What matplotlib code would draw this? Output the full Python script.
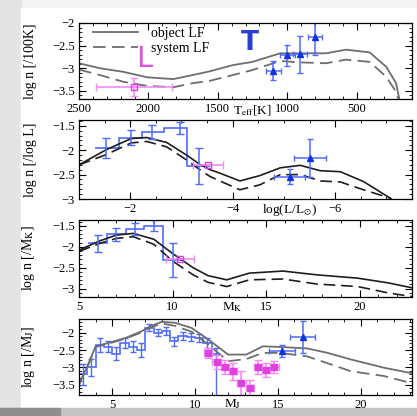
import numpy as np
import matplotlib.pyplot as plt
from matplotlib.ticker import MultipleLocator
from matplotlib.patches import Rectangle

plt.rcParams['font.family'] = ['Liberation Serif', 'DejaVu Serif']
plt.rcParams['mathtext.fontset'] = 'stix'

# ---- panel 1 : per 100K in Teff ----
teff_model = [2500, 2350, 2180, 2010, 1820, 1680, 1560, 1390, 1250, 1050, 910, 720, 575, 405, 285, 215, 190]
teff_obj = [-2.89, -3.00, -3.08, -3.20, -3.24, -3.15, -3.07, -2.93, -2.86, -2.67, -2.67, -2.67, -2.59, -2.65, -2.97, -3.33, -3.70]
teff_sys = [-3.03, -3.15, -3.30, -3.39, -3.42, -3.33, -3.28, -3.15, -3.04, -2.84, -2.87, -2.89, -2.81, -2.86, -3.19, -3.52, -3.75]
teff_L = [2105]
teff_L_val = [-3.41]
teff_L_xerr = [275]
teff_L_yerr = [0.2]
teff_T = [1100, 1000, 905, 800]
teff_T_val = [-3.06, -2.71, -2.69, -2.32]
teff_T_xerr = [54, 54, 50, 50]
teff_T_yerr = [0.21, 0.23, 0.41, 0.39]

# ---- panel 2 : per log L ----
logl_model = [-1.0, -1.53, -2.02, -2.32, -2.71, -3.10, -3.36, -3.56, -3.75, -4.14, -4.53, -4.93, -5.32, -5.71, -6.10, -6.55, -7.07, -7.15]
logl_obj = [-2.30, -1.99, -1.76, -1.74, -1.84, -2.10, -2.29, -2.40, -2.47, -2.63, -2.52, -2.36, -2.31, -2.42, -2.44, -2.64, -2.98, -3.05]
logl_sys = [-2.30, -2.09, -1.85, -1.82, -1.93, -2.20, -2.40, -2.54, -2.63, -2.81, -2.71, -2.50, -2.50, -2.63, -2.65, -2.81, -2.98, -3.10]
logl_edges = [-1.31, -1.78, -2.22, -2.65, -3.10, -3.55]
logl_hist = [-1.95, -1.74, -1.62, -1.54, -2.32]
logl_hist_x = [-1.53, -2.02, -2.43, -2.97, -3.34]
logl_hist_err = [0.20, 0.15, 0.14, 0.12, 0.37]
logl_L = [-3.52]
logl_L_val = [-2.31]
logl_L_xerr = [0.30]
logl_T = [-5.11, -5.51]
logl_T_val = [-2.54, -2.16]
logl_T_xerr = [0.31, 0.31]
logl_T_yerr = [0.16, 0.39]

# ---- panel 3 : per M_K ----
mk_model = [5.0, 6.1, 7.0, 7.9, 9.0, 10.0, 11.1, 11.9, 12.9, 14.1, 15.9, 17.7, 19.9, 21.5, 22.8]
mk_obj = [-2.08, -1.86, -1.72, -1.68, -1.82, -2.16, -2.50, -2.69, -2.79, -2.63, -2.58, -2.67, -2.75, -2.86, -2.98]
mk_sys = [-2.11, -1.92, -1.80, -1.76, -1.94, -2.34, -2.67, -2.85, -2.95, -2.79, -2.77, -2.89, -2.95, -3.10, -3.19]
mk_edges = [5.5, 6.5, 7.5, 8.5, 9.5, 10.5]
mk_hist = [-1.92, -1.70, -1.58, -1.50, -2.32]
mk_hist_err = [0.20, 0.16, 0.14, 0.13, 0.40]
mk_L = [10.4]
mk_L_val = [-2.28]
mk_L_xerr = [0.75]

# ---- panel 4 : per M_J ----
mj_model = [3.0, 3.55, 4.0, 4.8, 5.8, 6.8, 7.3, 8.0, 8.8, 9.8, 10.8, 12.0, 13.1, 14.1, 15.1, 16.75, 18.0, 19.4, 21.4, 23.1]
mj_obj = [-3.49, -2.92, -2.39, -2.29, -2.15, -1.95, -1.81, -1.68, -1.71, -1.86, -2.19, -2.63, -2.63, -2.39, -2.41, -2.45, -2.58, -2.77, -3.01, -3.17]
mj_sys = [-3.50, -2.94, -2.41, -2.31, -2.17, -1.98, -1.85, -1.73, -1.80, -1.97, -2.34, -2.82, -2.76, -2.58, -2.58, -2.68, -2.88, -3.11, -3.25, -3.46]
mj_edges = [3.0, 3.5, 4.0, 4.5, 5.0, 5.5, 6.0, 6.5, 7.0, 7.5, 8.0, 8.5, 9.0, 9.5, 10.0, 10.5, 11.0, 11.5]
mj_hist = [-3.20, -3.00, -2.35, -2.40, -2.60, -2.30, -2.40, -2.50, -1.85, -2.00, -1.95, -2.25, -2.10, -2.12, -2.15, -2.30, -2.60]
mj_hist_lo = [0.30, 0.25, 0.20, 0.15, 0.20, 0.15, 0.15, 0.20, 0.10, 0.10, 0.12, 0.12, 0.12, 0.12, 0.12, 0.15, 1.40]
mj_hist_hi = [0.30, 0.25, 0.20, 0.15, 0.20, 0.15, 0.15, 0.20, 0.10, 0.10, 0.12, 0.12, 0.12, 0.12, 0.12, 0.15, 0.15]
mj_L = [10.8, 11.3, 11.8, 12.3, 12.8, 13.3, 13.8, 14.3, 14.8]
mj_L_val = [-2.58, -2.85, -2.98, -3.11, -3.45, -3.61, -2.98, -3.08, -2.98]
mj_L_yerr = [0.15, 0.2, 0.2, 0.25, 0.35, 0.25, 0.2, 0.2, 0.17]
mj_T = [15.25, 16.5]
mj_T_val = [-2.53, -2.12]
mj_T_xerr = [0.8, 0.76]
mj_T_yerr = [0.17, 0.47]

GRAY = '#6e6e6e'
DARK = '#1e1e1e'
BLUE = '#1133dd'
LBLUE = '#4f6cff'
MAG = '#e040e0'
LMAG = '#f28cf2'
DASH = (7, 3.5)

fig = plt.figure(figsize=(4.17, 4.16), dpi=100)
fig.patch.set_facecolor('#ececec')

# slide-like background card
bg = fig.add_axes([0, 0, 1, 1], zorder=-10)
bg.set_axis_off()
bg.set_xlim(0, 417)
bg.set_ylim(416, 0)
bg.add_patch(Rectangle((0, 0), 417, 8, color='#f4f4f4'))
bg.add_patch(Rectangle((0, 0), 21, 416, color='#e4e4e4'))
bg.add_patch(Rectangle((21, 8), 396, 400, color='white'))
bg.add_patch(Rectangle((0, 408), 417, 8, color='#c4c4c4'))
bg.add_patch(Rectangle((0, 408), 60, 8, color='#8e8e8e'))


def make_ax(top, bottom):
    ax = fig.add_axes([79 / 417, 1 - bottom / 416, 333 / 417, (bottom - top) / 416])
    ax.tick_params(which='both', direction='in', top=True, right=True, labelsize=9, pad=3)
    ax.tick_params(which='major', length=5, width=0.8)
    ax.tick_params(which='minor', length=2.5, width=0.6)
    for s in ax.spines.values():
        s.set_linewidth(0.9)
    ax.yaxis.set_label_coords(-0.125, 0.5)
    ax.yaxis.set_major_locator(MultipleLocator(0.5))
    ax.yaxis.set_minor_locator(MultipleLocator(0.1))
    return ax


def fmt(v, pos):
    s = ('%g' % v)
    return s.replace('-', '\u2212')


# panel 1
ax1 = make_ax(23, 99)
ax1.plot(teff_model, teff_obj, color=GRAY, lw=1.3, label='object LF')
ax1.plot(teff_model, teff_sys, color=GRAY, lw=1.3, dashes=DASH, label='system LF')
ax1.errorbar(teff_L, teff_L_val, xerr=teff_L_xerr, yerr=teff_L_yerr, fmt='s', mfc='none',
             mec=MAG, ms=4, ecolor=LMAG, elinewidth=1.2, capsize=3)
ax1.errorbar(teff_T, teff_T_val, xerr=teff_T_xerr, yerr=teff_T_yerr, fmt='^', color=BLUE,
             ms=4.5, ecolor=LBLUE, elinewidth=1.1, capsize=2.5)
ax1.text(2030, -2.8, 'L', color='#dd55dd', fontsize=21, family='DejaVu Sans', ha='center', va='center')
ax1.text(1265, -2.45, 'T', color='#2b3fd0', fontsize=19, family='DejaVu Sans', weight='bold', ha='center', va='center')
ax1.set_xlim(2500, 100)
ax1.set_ylim(-3.68, -2.0)
ax1.xaxis.set_major_locator(MultipleLocator(500))
ax1.xaxis.set_minor_locator(MultipleLocator(100))
ax1.set_xticks([2500, 2000, 1500, 1000, 500])
ax1.set_ylabel('log n [/100K]', fontsize=10)
ax1.text(1250, -3.78, r'T$_{\rm eff}$[K]', fontsize=9.5, ha='center', va='top', transform=ax1.transData)
ax1.legend(loc='upper left', frameon=False, fontsize=10, handlelength=3.3, borderaxespad=0.1,
           labelspacing=0.15, handletextpad=0.9, bbox_to_anchor=(0.02, 1.04))

# panel 2
ax2 = make_ax(120, 199)
ax2.plot(logl_model, logl_obj, color=DARK, lw=1.2)
ax2.plot(logl_model, logl_sys, color=DARK, lw=1.2, dashes=DASH)
ax2.stairs(logl_hist, logl_edges, color=LBLUE, lw=1.2, baseline=None)
ax2.errorbar(logl_hist_x, logl_hist, yerr=logl_hist_err, fmt='none', ecolor=LBLUE, elinewidth=1.1, capsize=3)
ax2.errorbar(logl_L, logl_L_val, xerr=logl_L_xerr, fmt='s', mfc='none', mec=MAG, ms=4,
             ecolor=LMAG, elinewidth=1.2, capsize=3)
ax2.errorbar(logl_T, logl_T_val, xerr=logl_T_xerr, yerr=logl_T_yerr, fmt='^', color=BLUE,
             ms=4.5, ecolor=LBLUE, elinewidth=1.1, capsize=2.5)
ax2.set_xlim(-1.0, -7.5)
ax2.set_ylim(-3.0, -1.38)
ax2.set_xticks([-2, -4, -6])
ax2.xaxis.set_minor_locator(MultipleLocator(0.5))
ax2.set_ylabel('log n [/log L]', fontsize=10)
ax2.text(-5.1, -3.07, r'log(L/L$_{\odot}$)', fontsize=9.5, ha='center', va='top')

# panel 3
ax3 = make_ax(220, 297)
ax3.plot(mk_model, mk_obj, color=DARK, lw=1.2)
ax3.plot(mk_model, mk_sys, color=DARK, lw=1.2, dashes=DASH)
ax3.stairs(mk_hist, mk_edges, color=LBLUE, lw=1.2, baseline=None)
mk_hist_x = [(a + b) / 2 for a, b in zip(mk_edges[:-1], mk_edges[1:])]
ax3.errorbar(mk_hist_x, mk_hist, yerr=mk_hist_err, fmt='none', ecolor=LBLUE, elinewidth=1.1, capsize=3)
ax3.errorbar(mk_L, mk_L_val, xerr=mk_L_xerr, fmt='s', mfc='none', mec=MAG, ms=4,
             ecolor=LMAG, elinewidth=1.2, capsize=3)
ax3.set_xlim(5, 22.8)
ax3.set_ylim(-3.2, -1.36)
ax3.xaxis.set_major_locator(MultipleLocator(5))
ax3.xaxis.set_minor_locator(MultipleLocator(1))
ax3.set_ylabel('log n [/M$_{\\rm K}$]', fontsize=10)
ax3.text(13.2, -3.27, r'M$_{\rm K}$', fontsize=9.5, ha='center', va='top')

# panel 4
ax4 = make_ax(319, 395)
ax4.stairs(mj_hist, mj_edges, color=LBLUE, lw=1.2, baseline=None)
mj_hist_x = [(a + b) / 2 for a, b in zip(mj_edges[:-1], mj_edges[1:])]
ax4.errorbar(mj_hist_x, mj_hist, yerr=[mj_hist_lo, mj_hist_hi], fmt='none', ecolor=LBLUE,
             elinewidth=1.0, capsize=2.5)
ax4.plot(mj_model, mj_obj, color=GRAY, lw=1.3)
ax4.plot(mj_model, mj_sys, color=GRAY, lw=1.3, dashes=DASH)
ax4.errorbar(mj_L, mj_L_val, xerr=0.25, yerr=mj_L_yerr, fmt='s', color=MAG, ms=5,
             ecolor=LMAG, elinewidth=1.2, capsize=3)
ax4.errorbar(mj_T, mj_T_val, xerr=mj_T_xerr, yerr=mj_T_yerr, fmt='^', color=BLUE,
             ms=4.5, ecolor=LBLUE, elinewidth=1.1, capsize=2.5)
ax4.set_xlim(3, 23.1)
ax4.set_ylim(-3.8, -1.6)
ax4.set_yticks([-2, -2.5, -3, -3.5])
ax4.xaxis.set_major_locator(MultipleLocator(5))
ax4.xaxis.set_minor_locator(MultipleLocator(1))
ax4.set_ylabel('log n [/M$_{\\rm J}$]', fontsize=10)
ax4.text(12.3, -3.86, r'M$_{\rm J}$', fontsize=9.5, ha='center', va='top')

for ax in (ax1, ax2, ax3, ax4):
    ax.yaxis.set_major_formatter(plt.FuncFormatter(fmt))
    ax.xaxis.set_major_formatter(plt.FuncFormatter(fmt))

fig.savefig('out.png', dpi=100)
